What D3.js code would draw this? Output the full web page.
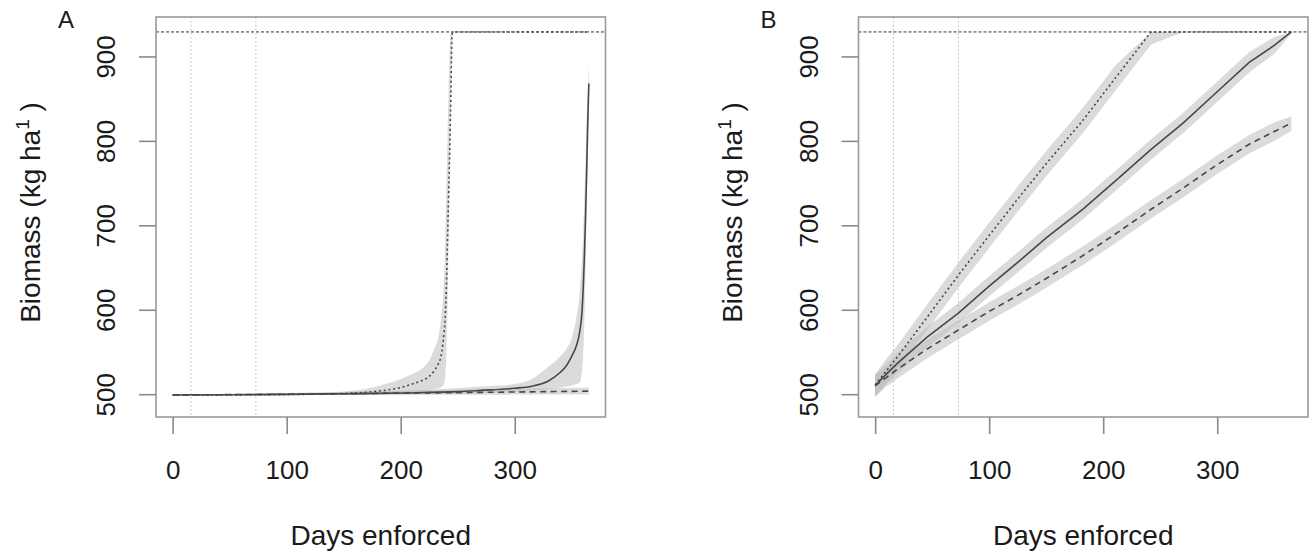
<!DOCTYPE html>
<html>
<head>
<meta charset="utf-8">
<script src="https://cdn.jsdelivr.net/npm/d3@7"></script>
<style>
body { margin: 0; background: #fff; }
svg { display: block; font-family: "Liberation Sans", Arial, sans-serif; }
</style>
</head>
<body>
<div id="chart"></div>
<script>
// ---- data ----
const xTicks = [0, 100, 200, 300];
const yTicks = [500, 600, 700, 800, 900];
const refDays = [16, 73];
const capacity = 929;

// panel A, dotted series (fast blow-up)
const daysAfast  = [0, 50, 100, 150, 175, 200, 210, 220, 225, 229, 233, 235, 236, 237, 238, 239, 240, 241, 242, 243, 244, 245, 246, 300, 365];
const meanAfast  = [499, 499.2, 499.6, 500.8, 503, 508, 512, 517, 521, 527, 536, 543, 550, 560, 573, 590, 625, 680, 735, 790, 855, 925, 929, 929, 929];
const hiAfast    = [499, 499.5, 500.5, 503, 508, 518, 524, 532, 540, 552, 568, 585, 597, 610, 635, 680, 740, 800, 860, 910, 929, 929, 929, 929, 929];
const loAfast    = [499, 499, 499, 499.5, 500.5, 502, 503, 504, 505, 506, 507, 508, 509, 510, 512, 520, 545, 600, 680, 760, 830, 900, 929, 929, 929];

// panel A, solid series
const daysAmid   = [0, 50, 100, 150, 200, 250, 270, 300, 315, 330, 340, 345, 350, 354, 357, 359, 360, 361, 362, 363, 364, 365];
const meanAmid   = [499, 499.3, 499.8, 500.5, 501.5, 503, 504.5, 507, 509.5, 516, 526, 533, 545, 557, 574, 598, 624, 660, 705, 760, 820, 868];
const hiAmid     = [499, 499.8, 500.8, 502, 504, 507, 509, 512, 518, 533, 545, 553, 567, 590, 620, 660, 690, 730, 775, 820, 860, 893];
const loAmid     = [499, 499, 499, 499.2, 499.5, 500.5, 501, 503, 504, 506, 508, 509, 510, 512, 514, 528, 545, 585, 640, 710, 775, 835];

// panel A, dashed series
const daysAslow  = [0, 100, 200, 300, 365];
const meanAslow  = [499, 500, 501.2, 502.6, 503.6];
const hiAslow    = [499, 501.5, 504, 506.5, 508];
const loAslow    = [499, 499, 499.3, 499.5, 499.7];

// panel B, shared days
const daysB      = [0, 10, 20, 45, 73, 100, 125, 150, 182, 211, 242, 270, 299, 328, 350, 365];
const meanBfast  = [511, 528, 545, 590, 641, 688, 731, 773, 824, 875, 929, 929, 929, 929, 929, 929];
const loBfast    = [497, 514, 531, 575, 626, 673, 716, 758, 809, 860, 914, 929, 929, 929, 929, 929];
const hiBfast    = [524, 542, 559, 605, 656, 703, 746, 788, 839, 890, 929, 929, 929, 929, 929, 929];
const meanBmid   = [510, 524, 537, 567, 596, 628, 656, 685, 719, 753, 790, 821, 857, 893, 913, 929];
const loBmid     = [497, 512, 525, 555, 584, 616, 644, 673, 707, 741, 778, 809, 845, 881, 903, 927];
const hiBmid     = [523, 536, 549, 579, 608, 640, 668, 697, 731, 765, 802, 833, 869, 905, 923, 929];
const meanBslow  = [510, 520, 530, 553, 576, 598, 617, 637, 664, 690, 719, 744, 771, 796, 811, 821];
const loBslow    = [497, 509, 519, 542, 565, 587, 606, 626, 653, 679, 708, 733, 760, 785, 800, 812];
const hiBslow    = [523, 531, 541, 564, 587, 609, 628, 648, 675, 701, 730, 755, 782, 807, 822, 829];

function rows(days, mean, lo, hi) {
  return days.map((d, i) => ({ day: d, mean: mean[i], lo: lo[i], hi: hi[i] }));
}

const panels = [
  { label: 'A', ox: 0, curve: d3.curveMonotoneX, series: [
    { data: rows(daysAslow, meanAslow, loAslow, hiAslow), dash: '6,4.5' },
    { data: rows(daysAmid, meanAmid, loAmid, hiAmid), dash: null },
    { data: rows(daysAfast, meanAfast, loAfast, hiAfast), dash: '2,2.8' }
  ]},
  { label: 'B', ox: 702.5, curve: d3.curveLinear, series: [
    { data: rows(daysB, meanBslow, loBslow, hiBslow), dash: '6,4.5' },
    { data: rows(daysB, meanBmid, loBmid, hiBmid), dash: null },
    { data: rows(daysB, meanBfast, loBfast, hiBfast), dash: '2,2.8' }
  ]}
];

const svg = d3.select('#chart').append('svg')
  .attr('width', 1311)
  .attr('height', 552);

const boxL = 156, boxR = 605.5, boxT = 17, boxB = 417;

panels.forEach((p, pi) => {
  const g = svg.append('g').attr('transform', 'translate(' + p.ox + ',0)');
  const x = d3.scaleLinear().domain([-14.6, 379.6]).range([boxL, boxR]);
  const y = d3.scaleLinear().domain([473, 946.7]).range([boxB, boxT]);

  const clipId = 'clip' + pi;
  g.append('clipPath').attr('id', clipId)
    .append('rect').attr('x', boxL).attr('y', boxT)
    .attr('width', boxR - boxL).attr('height', boxB - boxT);
  const plot = g.append('g').attr('clip-path', 'url(#' + clipId + ')');

  // confidence bands
  const area = d3.area()
    .x(d => x(d.day)).y0(d => y(d.lo)).y1(d => y(d.hi))
    .curve(p.curve);
  p.series.forEach(s => {
    plot.append('path').attr('d', area(s.data))
      .attr('fill', '#bdbdbd').attr('fill-opacity', 0.55);
  });

  // reference lines
  refDays.forEach(d => {
    plot.append('line')
      .attr('x1', x(d)).attr('x2', x(d)).attr('y1', boxT).attr('y2', boxB)
      .attr('stroke', '#b5b5b5').attr('stroke-width', 1)
      .attr('stroke-dasharray', '1.5,2.5');
  });
  plot.append('line')
    .attr('x1', boxL).attr('x2', boxR)
    .attr('y1', y(capacity)).attr('y2', y(capacity))
    .attr('stroke', '#333').attr('stroke-width', 1)
    .attr('stroke-dasharray', '3,2');

  // mean lines
  const line = d3.line().x(d => x(d.day)).y(d => y(d.mean)).curve(p.curve);
  p.series.forEach(s => {
    plot.append('path').attr('d', line(s.data))
      .attr('fill', 'none').attr('stroke', '#474747')
      .attr('stroke-width', 1.6)
      .attr('stroke-dasharray', s.dash);
  });

  // box
  g.append('rect')
    .attr('x', boxL).attr('y', boxT)
    .attr('width', boxR - boxL).attr('height', boxB - boxT)
    .attr('fill', 'none').attr('stroke', '#999').attr('stroke-width', 1.6);

  // axes
  const xAxis = g.append('g').attr('transform', 'translate(0,' + boxB + ')')
    .call(d3.axisBottom(x).tickValues(xTicks).tickSize(17).tickPadding(27));
  const yAxis = g.append('g').attr('transform', 'translate(' + boxL + ',0)')
    .call(d3.axisLeft(y).tickValues(yTicks).tickSize(17));
  [xAxis, yAxis].forEach(a => {
    a.select('.domain').remove();
    a.selectAll('.tick line').attr('stroke', '#8a8a8a').attr('stroke-width', 1.6);
    a.selectAll('.tick text').attr('fill', '#1a1a1a').attr('font-size', 26)
      .attr('font-family', '"Liberation Sans", Arial, sans-serif');
  });
  yAxis.selectAll('.tick text')
    .attr('x', 0).attr('dy', 0).attr('text-anchor', 'middle')
    .attr('transform', 'translate(-41,0) rotate(-90)');

  // titles
  g.append('text')
    .attr('x', (boxL + boxR) / 2).attr('y', 545)
    .attr('text-anchor', 'middle').attr('font-size', 28).attr('fill', '#1a1a1a')
    .text('Days enforced');

  const yt = g.append('text')
    .attr('transform', 'translate(39.5,212.5) rotate(-90)')
    .attr('text-anchor', 'middle').attr('font-size', 28).attr('fill', '#1a1a1a');
  yt.append('tspan').text('Biomass (kg ha');
  yt.append('tspan').attr('font-size', 19).attr('dy', -11).text('1');
  yt.append('tspan').attr('dy', 11).text(' )');

  g.append('text')
    .attr('x', 66).attr('y', 28)
    .attr('text-anchor', 'middle').attr('font-size', 24).attr('fill', '#1a1a1a')
    .text(p.label);
});
</script>
</body>
</html>
